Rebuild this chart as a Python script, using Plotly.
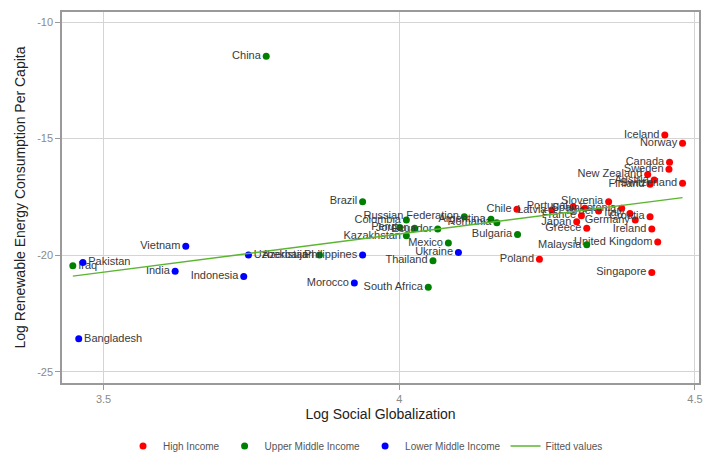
import plotly.graph_objects as go

# Log social globalization (x) and log renewable energy consumption per capita (y)
high_names = ["Iceland", "Norway", "Canada", "Sweden", "New Zealand", "Austria",
              "Finland", "Switzerland", "Slovenia", "Portugal", "Latvia", "Chile",
              "Spain", "Israel", "Estonia", "Italy", "France", "Germany", "Croatia",
              "Japan", "Greece", "Ireland", "United Kingdom", "Poland", "Singapore"]
high_x = [4.449, 4.479, 4.457, 4.456, 4.420, 4.431, 4.424, 4.479, 4.354, 4.294,
          4.258, 4.199, 4.314, 4.337, 4.376, 4.390, 4.308, 4.399, 4.424, 4.300,
          4.317, 4.427, 4.437, 4.237, 4.427]
high_y = [-14.85, -15.20, -16.02, -16.32, -16.54, -16.78, -16.96, -16.92, -17.71,
          -17.92, -18.06, -18.03, -17.99, -18.11, -17.99, -18.21, -18.31, -18.49,
          -18.35, -18.57, -18.85, -18.88, -19.44, -20.18, -20.75]

upper_names = ["China", "Brazil", "Russian Federation", "Colombia", "Peru", "Jordan",
               "Ecuador", "Kazakhstan", "Argentina", "Romania", "Bulgaria", "Mexico",
               "Thailand", "South Africa", "Malaysia", "Azerbaijan", "Iraq"]
upper_x = [3.775, 3.938, 4.110, 4.012, 4.001, 4.026, 4.065, 4.012, 4.155, 4.165,
           4.200, 4.083, 4.057, 4.049, 4.317, 3.865, 3.448]
upper_y = [-11.47, -17.71, -18.35, -18.49, -18.82, -18.85, -18.88, -19.17, -18.46,
           -18.61, -19.11, -19.48, -20.24, -21.38, -19.56, -20.00, -20.46]

lower_names = ["Vietnam", "Pakistan", "India", "Indonesia", "Uzbekistan",
               "Philippines", "Morocco", "Ukraine", "Bangladesh"]
lower_x = [3.639, 3.465, 3.621, 3.737, 3.745, 3.938, 3.924, 4.100, 3.458]
lower_y = [-19.62, -20.32, -20.69, -20.92, -20.00, -20.00, -21.20, -19.89, -23.59]

# countries whose label sits to the right of the marker
right_labels = {"Pakistan", "Iraq", "Bangladesh", "Uzbekistan"}

# linear fit: y = intercept + slope * x
fit_intercept = -32.166
fit_slope = 3.267

x_ticks = [3.5, 4.0, 4.5]
x_tick_text = ["3.5", "4", "4.5"]
y_ticks = [-25, -20, -15, -10]
y_tick_text = ["-25", "-20", "-15", "-10"]

FONT = "Liberation Sans, Arial, sans-serif"
LABEL_COLOR = "#3a3a3a"


def positions(names):
    return ["middle right" if n in right_labels else "middle left" for n in names]


fig = go.Figure()

groups = [
    ("High Income", high_names, high_x, high_y, "#ff0000"),
    ("Upper Middle Income", upper_names, upper_x, upper_y, "#008000"),
    ("Lower Middle Income", lower_names, lower_x, lower_y, "#0000ff"),
]
for label, names, xs, ys, color in groups:
    fig.add_trace(go.Scatter(
        x=xs, y=ys, mode="markers+text", name=label,
        text=names, textposition=positions(names),
        textfont=dict(family=FONT, size=11, color=LABEL_COLOR),
        marker=dict(color=color, size=7, line=dict(width=0)),
        cliponaxis=False,
    ))

all_x = high_x + upper_x + lower_x
fit_x = [min(all_x), max(all_x)]
fit_y = [fit_intercept + fit_slope * v for v in fit_x]
fig.add_trace(go.Scatter(
    x=fit_x, y=fit_y, mode="lines", name="Fitted values",
    line=dict(color="#5cb531", width=1.5),
))

axis_common = dict(
    showgrid=True, gridcolor="#d4d4d4", gridwidth=1,
    zeroline=False, showline=True, linecolor="#9a9a9a", linewidth=1.5,
    mirror=True, ticks="outside", ticklen=5, tickcolor="#9a9a9a",
    tickfont=dict(family=FONT, size=11, color="#8a8a8a"),
    automargin=False,
)

fig.update_layout(
    width=707, height=455,
    margin=dict(l=62, r=8, t=12, b=72),
    paper_bgcolor="white", plot_bgcolor="white",
    font=dict(family=FONT),
    xaxis=dict(
        range=[3.4297, 4.5068], tickvals=x_ticks, ticktext=x_tick_text,
        title=dict(text="Log Social Globalization",
                   font=dict(family=FONT, size=14, color="#222222"), standoff=5),
        **axis_common,
    ),
    yaxis=dict(
        range=[-25.486, -9.57], tickvals=y_ticks, ticktext=y_tick_text,
        title=dict(text="Log Renewable Energy Consumption Per Capita",
                   font=dict(family=FONT, size=14, color="#222222"), standoff=8),
        **axis_common,
    ),
    showlegend=True,
    legend=dict(
        orientation="h", xref="container", yref="container",
        x=0.174, xanchor="left", y=0.0198, yanchor="middle",
        font=dict(family=FONT, size=10, color="#555555"),
        bgcolor="rgba(0,0,0,0)",
    ),
)

fig.write_html("out.html")
